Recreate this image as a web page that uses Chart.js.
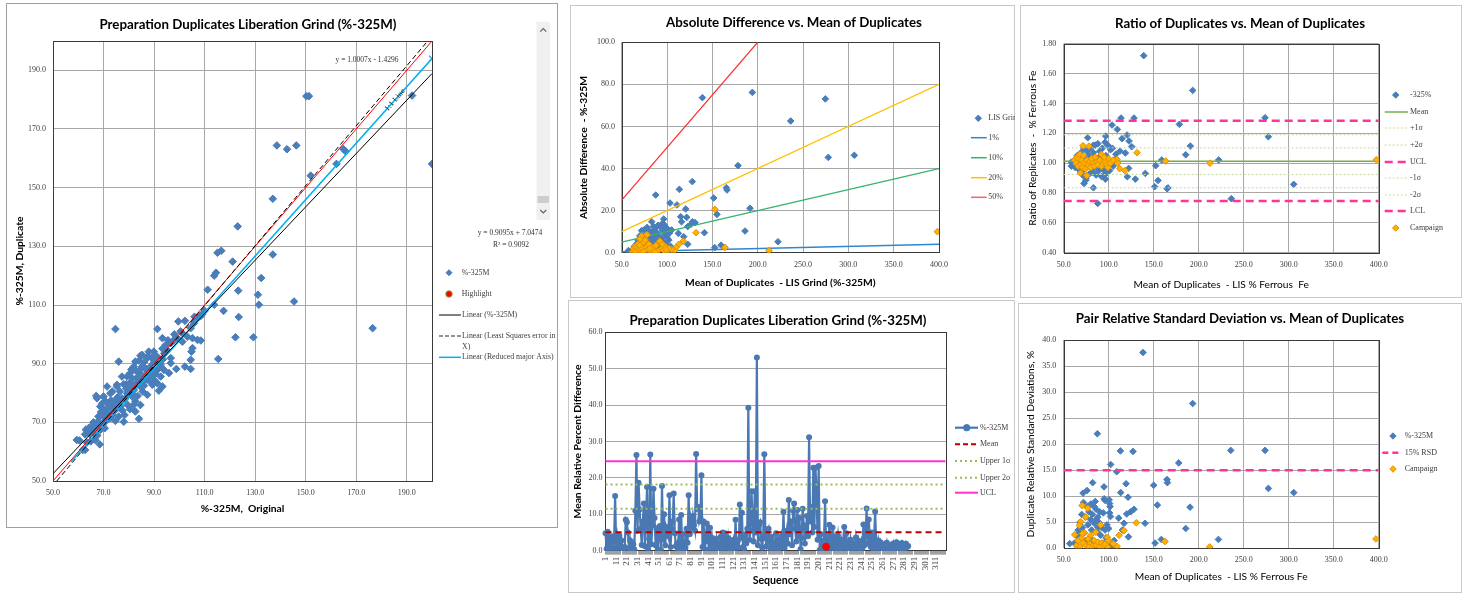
<!DOCTYPE html>
<html>
<head>
<meta charset="utf-8">
<script src="https://cdn.jsdelivr.net/npm/chart.js@4.4.1/dist/chart.umd.min.js"></script>
<style>
  html, body { margin: 0; padding: 0; background: #fff; }
  body { width: 1466px; height: 596px; position: relative; overflow: hidden; }
  .panel { position: absolute; }
</style>
</head>
<body>
<div class="panel" style="left:6px;top:3px;width:552px;height:525px"><canvas id="c1"></canvas></div>
<div class="panel" style="left:570px;top:5px;width:445px;height:293px"><canvas id="c2"></canvas></div>
<div class="panel" style="left:1020px;top:5px;width:442px;height:293px"><canvas id="c3"></canvas></div>
<div class="panel" style="left:568px;top:300px;width:447px;height:293px"><canvas id="c4"></canvas></div>
<div class="panel" style="left:1018px;top:303px;width:444px;height:290px"><canvas id="c5"></canvas></div>
<script>
// ---------------- data ----------------

// chart 1 : original vs duplicate (%-325M)
var p1Points = [
  [138.6,164.4],[137.0,146.2],[123.1,136.8],[137.0,127.2],[115.1,127.8],[116.6,128.5],[121.1,124.8],
  [113.8,120.0],[114.5,121.0],[132.4,119.2],[150.3,181.2],[151.3,181.2],[142.6,163.1],[146.3,164.4],
  [165.8,162.4],[164.9,163.2],[162.2,158.1],[152.0,154.1],[192.1,181.4],[200,158.1],[145.4,111.2],
  [176.5,102.1],[111.2,115.2],[123.3,114.9],[131.1,113.5],[131.5,110.1],[117.5,108.0],[123.5,105.9],
  [113.8,110.1],[122.2,99.0],[129.3,99.0],[115.4,91.6],[74.7,101.8],[91.3,101.8],[76.0,90.7],
  [99.6,104.4],[102.2,104.6],[108.5,106.3],[107.2,105.5],[105.8,103.8],[104.5,102.1],[101.2,100.4],
  [103.2,99.2],[105.2,98.7],[107.2,98.1],[108.5,97.9],[97.9,98.1],[99.2,98.7],[96.6,97.0],[94.6,96.4],
  [93.3,98.7],[93.3,95.1],[95.2,94.7],[101.2,97.5],[105.2,95.3],[104.8,94.1],[96.6,91.9],[98.8,88.2],
  [104.5,88.2],[104.5,91.3],[102.2,89.0],[96.6,90.2],[110.0,108.0],[109.0,106.8],[106.0,106.0],
  [100.5,101.0],[98.0,100.0],[95.5,98.0],
  [62.7,60.6],[59.4,64.0],[60.5,63.8],[61.8,60.6],[63.4,63.1],[62.7,65.9],[66.7,64.0],[65.4,67.4],
  [68.7,67.4],[64.5,66.0],[65.0,63.5],[66.0,66.5],[67.5,65.5],[67.0,68.5],[69.5,69.0],[68.0,70.5],
  [70.5,68.0],[71.0,70.5],[72.7,71.4],[70.4,74.2],[68.0,72.0],[67.4,78.2],[67.1,79.0],[68.7,75.4],
  [70.0,73.1],[70.0,78.8],[71.4,82.2],[72.7,79.9],[72.7,74.8],[74.7,74.2],[74.7,77.3],[74.7,70.5],
  [73.5,72.5],[75.3,82.8],[75.3,82.2],[76.7,75.4],[77.0,77.0],[77.3,78.2],[78.0,70.2],[78.3,72.5],
  [79.3,79.9],[79.3,85.6],[77.3,85.6],[80.6,86.8],[81.3,78.8],[81.3,85.0],[82.0,81.0],[82.0,89.0],
  [82.6,73.7],[82.6,77.1],[82.6,90.7],[84.0,71.2],[84.0,84.5],[84.3,86.8],[84.6,82.2],[84.6,75.9],
  [84.6,92.7],[85.3,93.0],[85.3,89.0],[86.9,87.9],[87.3,84.5],[87.3,79.4],[87.3,86.8],[87.3,91.9],
  [87.9,94.1],[88.6,89.0],[89.3,85.6],[89.3,82.8],[89.9,94.1],[91.3,87.9],[91.3,83.3],[91.3,92.2],
  [91.9,80.8],[92.6,89.6],[92.6,85.6],[93.3,82.2],[93.9,87.9],[95.9,86.8],
  [76.0,76.5],[78.5,78.0],[80.0,80.5],[81.0,82.5],[83.0,83.5],[83.5,85.5],[85.0,86.0],[86.0,84.0],
  [86.5,88.5],[88.0,87.0],[89.0,88.0],[90.0,90.5],[90.5,86.5],[85.5,80.5],[80.5,83.5],[79.0,81.5],
  [78.0,83.0],[76.5,80.5],[75.5,78.5],[74.0,76.0],[73.0,77.5],[72.0,75.5],[71.5,73.0],[70.5,71.5],
  [69.0,73.5],[69.5,76.5],[71.0,77.0],[73.5,80.5],[79.5,76.0],[81.5,79.5],[83.5,79.0],[86.0,82.5],
  [88.5,84.0],[90.0,84.5],[92.0,91.0],[93.5,91.5],[94.0,93.5],[77.5,74.0],[76.0,72.0],[80.5,74.5],
  [82.0,76.0],[64.0,68.0],[66.0,70.0],[68.5,62.5],[65.5,69.0],[63.0,67.5],[84.5,88.0],[86.0,90.5],
  [83.0,87.5],[81.0,88.0],[79.0,83.0],[87.5,92.5],[89.0,92.0],[90.5,93.0],[84.0,91.0]
];
var p1Highlight = [];
var p1OneToOne = [[50,50],[200,200]];
var p1LsqX = [[51.5,50],[198.3,200]];
var p1Rma = [[57,56.5],[200,194]];
var p1Trend = [[50,52.5],[200,188.9]];
var p1Ticks = [50,70,90,110,130,150,170,190];

// chart 2 : absolute difference vs mean
var p2Grind = [
  [139.0,73.7],[194.1,76.2],[274.6,73.1],[236.4,62.6],[277.9,45.3],[306.6,46.3],[178.3,41.4],[127.9,33.8],
  [165.4,30.9],[166.2,29.8],[151.5,26.0],[87.5,27.4],[113.6,30.1],[103.3,23.6],[111.0,22.7],[120.6,20.8],
  [191.5,21.1],[155.1,18.2],[115.1,17.1],[121.7,16.8],[83.1,14.7],[96.3,16.0],[130.9,14.3],[126.5,13.6],
  [122.8,12.4],[186.0,10.3],[141.2,9.5],[222.4,5.2],[152.6,2.4],[159.6,3.6],[122.8,4.0],[112.5,9.2],
  [118.4,7.6],[57.4,1.0],[97.0,13.2],[116.0,14.7],[128.0,14.7],[105.0,10.8],
  [62,1.5],[64,3.0],[66,2.0],[67,4.5],[68,6.0],[69,1.0],[70,8.0],[71,3.5],[72,10.5],[73,5.5],[74,2.5],
  [75,11.0],[76,7.0],[77,4.0],[78,12.0],[79,9.0],[80,6.5],[81,3.0],[82,8.5],[83,5.0],[84,10.0],[85,7.5],
  [86,2.0],[87,11.5],[88,6.0],[89,9.5],[90,4.5],[91,8.0],[92,12.5],[93,3.5],[94,7.0],[95,10.5],[96,5.5],
  [97,12.5],[98,9.0],[99,4.0],[100,7.5],[101,11.0],[102,6.0],[103,9.5],[104,3.0],[85,12.5],[80,10.5],
  [75,5.0],[88,1.5],[92,2.0],[97,1.0],[100,3.5],[83,1.0],[78,2.0],[73,8.0],[90,13.0],[95,14.0],[86,9.0],
  [82,4.0],[99,12.0]
];
var p2Campaign = [
  [152.9,20.6],[132.0,9.5],[164.0,2.5],[212.5,1.0],[398.2,10.0],[118,5.5],[113,4.0],[110,2.5],[108,1.0],
  [105,1.5],[62,0.5],[63,2.0],[64,1.0],[65,3.0],[66,0.5],[67,2.5],[68,4.0],[69,1.5],[70,3.5],[71,0.8],
  [72,8.0],[73,2.0],[74,5.0],[75,1.0],[76,6.0],[77,2.5],[78,8.5],[79,1.5],[80,4.0],[82,0.5],[84,2.5],
  [86,1.0],[88,3.5],[90,0.8],[92,5.5],[94,2.0],[96,1.2],[98,3.0],[100,0.5],[102,2.0],[70,6.5],[74,0.5],
  [81,2.0],[87,0.3],[95,4.0],[99,1.5]
];
var p2Pct1 = [[50,0.5],[400,4]];
var p2Pct10 = [[50,5],[400,40]];
var p2Pct20 = [[50,10],[400,80]];
var p2Pct50 = [[50,25],[200,100]];
var meanTicks = [50,100,150,200,250,300,350,400];
var p2YTicks = [0,20,40,60,80,100];

// chart 3 : ratio vs mean
var p3Ratio = [
  [138.9,1.72],[193.3,1.487],[273.7,1.304],[277.4,1.177],[305.6,0.858],[236.3,0.762],[222.2,1.021],
  [178.5,1.26],[185.6,1.056],[190.7,1.114],[152.2,0.983],[154.8,0.884],[151.1,0.842],[164.8,0.829],
  [165.8,0.834],[158.9,1.021],[140.7,0.931],[113.7,1.302],[128.1,1.302],[103.7,1.255],[109.6,1.226],
  [114.8,1.164],[120.4,1.188],[122.6,1.148],[125.6,1.11],[118.5,1.068],[112.6,1.081],[122.2,0.965],
  [120.7,0.909],[129.6,0.893],[96.3,0.893],[87.8,0.73],[83.0,0.835],[96.7,1.181],[76.7,1.17],[72.6,0.864],
  [74.5,0.885],[58.5,1.007],[58.5,0.98],
  [62,1.02],[63,0.97],[65,1.05],[66,0.99],[67,1.04],[68,0.95],[69,1.07],[70,1.0],[71,0.92],[72,1.1],
  [73,0.96],[74,1.03],[75,0.9],[76,1.08],[77,0.98],[78,1.05],[79,0.93],[80,1.1],[81,1.0],[82,0.94],
  [83,1.07],[84,0.97],[85,1.12],[86,0.92],[87,1.03],[88,1.13],[89,0.95],[90,1.08],[91,0.99],[92,0.91],
  [93,1.1],[94,1.02],[95,0.95],[96,1.14],[97,1.05],[98,0.97],[99,1.12],[100,1.0],[101,0.95],[102,1.09],
  [104,1.1],[105,0.98],[106,1.02],[108,1.06],[86,1.0],[79,1.04],[83,1.12],[91,1.05],[97,0.93],[74,0.98]
];
var p3Campaign = [
  [131.5,1.07],[163.3,1.014],[212.6,1.0],[397.4,1.023],[118,0.95],[112.2,0.963],[109.3,1.025],[71.5,1.117],
  [78.1,1.114],[91.9,1.059],[75.6,0.916],[68.5,0.934],[62,1.02],[64,1.0],[65,1.04],[66,0.98],[67,1.03],
  [68,1.06],[69,0.99],[70,1.02],[71,0.97],[72,1.05],[73,1.0],[74,0.96],[76,1.02],[77,0.99],[79,1.01],
  [80,0.97],[81,1.03],[83,1.0],[84,0.98],[85,1.04],[87,1.01],[88,0.99],[90,1.02],[92,0.98],[94,1.0],
  [96,1.01],[98,0.99],[100,1.03],[102,1.0],[105,1.02],[110,1.0],[99,0.97],[95,1.04]
];
var p3Mean = [[50,1.013],[400,1.013]];
var p3Plus1 = [[50,1.102],[400,1.102]];
var p3Plus2 = [[50,1.19],[400,1.19]];
var p3Ucl = [[50,1.284],[400,1.284]];
var p3Minus1 = [[50,0.924],[400,0.924]];
var p3Minus2 = [[50,0.835],[400,0.835]];
var p3Lcl = [[50,0.746],[400,0.746]];
var p3YTicks = [0.4,0.6,0.8,1.0,1.2,1.4,1.6,1.8];

// chart 4 : mean relative percent difference by sequence
var seqLabels = Array.from({length: 320}, function (_, i) { return String(i + 1); });
var p4Values = [
  4.8,0.5,5.2,0.3,3.1,1.2,4.0,0.8,2.5,15.0,
  0.6,3.8,1.4,4.2,0.9,2.8,0.4,0.2,1.0,8.5,
  7.8,5.0,0.7,2.8,0.1,0.5,1.8,0.3,11.0,26.3,
  5.4,18.7,11.3,6.0,1.6,8.0,13.0,1.2,9.5,17.5,
  0.5,3.2,26.4,1.8,7.0,17.0,9.0,1.5,6.2,0.4,
  4.5,6.8,0.2,17.8,3.0,10.0,1.5,6.5,5.5,4.0,
  15.2,1.0,6.0,8.0,15.7,4.8,1.2,2.0,0.1,8.6,
  0.4,9.8,1.5,4.6,0.3,0.8,6.0,2.2,15.2,4.5,
  8.6,6.5,9.5,7.0,5.5,26.6,11.5,12.0,8.0,9.0,
  20.7,1.0,8.0,0.5,2.5,7.5,4.0,0.3,6.3,1.2,
  3.5,0.8,2.8,1.5,3.2,0.5,2.0,0.2,3.8,1.0,
  5.0,0.4,4.8,2.2,1.0,3.5,0.6,2.5,0.3,1.8,
  3.0,0.5,8.5,1.2,2.5,0.8,12.7,3.5,10.4,1.0,
  0.4,4.5,2.0,6.0,39.3,3.0,5.5,16.3,8.0,2.5,
  16.3,5.0,53.1,1.5,7.0,7.8,3.2,0.8,4.0,26.5,
  3.5,1.2,5.0,6.0,2.5,0.6,3.8,1.0,2.2,0.4,
  4.8,1.5,3.0,0.5,2.4,4.0,1.2,10.7,0.8,3.5,
  5.5,2.0,13.9,4.5,8.0,1.5,11.0,13.0,6.0,2.5,
  11.2,4.0,9.0,0.5,3.5,11.5,7.0,2.0,5.5,9.5,
  4.0,31.2,8.0,12.0,5.0,22.8,6.5,22.8,16.5,3.0,
  23.3,0.2,4.5,1.0,0.5,2.8,13.6,1.1,4.0,0.8,
  7.1,2.5,0.3,6.4,1.8,3.5,0.5,2.0,4.2,0.2,
  1.5,3.0,0.6,2.5,6.5,1.0,4.8,0.4,2.2,0.1,
  3.0,1.2,0.5,2.0,0.8,3.6,1.5,2.8,0.3,1.0,
  2.5,0.6,7.2,1.5,4.0,11.6,2.0,8.6,3.5,1.0,
  5.0,0.5,3.0,10.8,1.8,0.4,2.8,1.2,2.3,0.6,
  1.5,0.2,1.8,0.8,2.2,0.5,1.2,0.3,1.6,0.9,
  2.0,0.4,1.5,2.3,0.7,1.8,0.5,1.2,2.1,0.6,
  1.4,0.3,1.9,1.0,1.3
];
var p4Highlight = [{x: '208', y: 1.1}];
var p4Mean = 5.1, p4Upper1 = 11.5, p4Upper2 = 18.2, p4Ucl = 24.6;
var p4YTicks = [0,10,20,30,40,50,60];

// chart 5 : relative standard deviation vs mean
var p5Rsd = [
  [138.1,37.6],[193.3,27.8],[87.4,22.0],[235.6,18.8],[273.7,18.8],[113.0,18.7],[127.0,18.6],[102.2,16.1],
  [177.8,16.4],[108.9,14.7],[164.8,13.2],[165.2,12.6],[150.0,12.1],[119.3,12.4],[277.4,11.5],[305.6,10.7],
  [82.2,12.6],[94.8,11.8],[71.5,10.6],[75.9,11.1],[113.3,10.7],[121.5,9.8],[154.1,8.3],[190.4,7.9],
  [128.1,7.5],[124.4,7.0],[120.0,6.6],[111.1,5.8],[140.4,4.8],[117.0,4.8],[115.2,3.5],[185.6,3.8],
  [121.9,2.2],[158.5,1.7],[221.9,1.7],[151.5,1.0],[56.7,0.9],[100.5,9.3],[101.0,8.6],[101.5,8.0],
  [101.0,6.8],[102.0,6.1],[95.0,9.5],[96.0,9.2],
  [62,1.0],[64,2.5],[65,0.5],[66,3.5],[67,1.8],[68,5.0],[69,2.8],[70,6.5],[71,4.0],[72,8.8],[73,3.0],
  [74,6.0],[75,1.5],[76,8.0],[77,4.5],[78,7.0],[79,2.0],[80,5.5],[81,3.5],[82,6.5],[83,1.2],[84,4.8],
  [85,9.0],[86,7.5],[87,3.2],[88,6.0],[89,5.0],[90,7.0],[91,2.5],[92,4.0],[93,1.0],[94,6.8],[96,3.5],
  [97,2.0],[98,4.5],[99,1.5],[100,3.8],[103,1.0],[104,0.5],[106,1.5],[86,5.5],[80,8.5],[84,8.0],[88,4.0]
];
var p5Campaign = [
  [130.7,4.9],[162.6,1.3],[212.2,0.26],[397.0,1.8],[117.0,3.4],[111.5,2.5],[109.3,0.4],[70.4,8.2],
  [76.7,7.7],[74.4,6.0],[85.6,3.1],[91.1,4.5],[68.9,5.1],[67.4,4.4],[62.2,2.6],[98.5,2.1],[98.5,0.3],
  [64,0.5],[66,1.5],[68,0.3],[70,2.0],[72,1.0],[73,3.0],[75,0.5],[77,1.8],[79,0.8],[80,2.5],[82,0.4],
  [84,1.5],[86,0.6],[88,1.2],[90,0.3],[92,1.0],[94,0.5],[96,0.8],[100,1.5],[105,0.9],[71,2.8],[78,0.2]
];
var p5Limit = [[50,15],[400,15]];
var p5YTicks = [0,5,10,15,20,25,30,35,40];

// ---------------- styles ----------------
var BLUE = '#4A7EBB';
var ORANGE = '#FFB000', ORANGE_EDGE = '#E39200';
var PINK = '#FF3399';
var GRID = '#A8A8A8', TICK = '#404040', FRAME = '#3A3A3A';
var TITLE_FONT = 'bold 13.3px Lato';
var SERIF = '"Liberation Serif", serif';

Chart.defaults.font.family = SERIF;
Chart.defaults.color = TICK;

function pts(arr) { return arr.map(function (p) { return {x: p[0], y: p[1]}; }); }

function dots(label, arr, fill, edge, r, order) {
  return {label: label, data: pts(arr), showLine: false, pointStyle: 'rectRot', pointRadius: r,
    pointBackgroundColor: fill, pointBorderColor: edge, pointBorderWidth: 1, order: order};
}
function seg(label, arr, color, w, dash, order) {
  return {label: label, data: pts(arr), showLine: true, borderColor: color, borderWidth: w,
    borderDash: dash || [], pointRadius: 0, fill: false, order: order};
}

function linAxis(o) {
  return {
    type: 'linear', min: o.min, max: o.max,
    afterBuildTicks: function (s) { s.ticks = o.ticks.map(function (v) { return {value: v}; }); },
    afterFit: function (s) { if (o.w) s.width = o.w; if (o.h) s.height = o.h; },
    grid: {color: GRID, lineWidth: 1, drawTicks: false},
    border: {display: false},
    ticks: {padding: o.pad, color: TICK, font: {size: 8}, autoSkip: false, maxRotation: 0,
      callback: function (v) { return v.toFixed(o.dec); }},
    title: {display: true, text: o.title, color: '#000', font: o.tfont, padding: o.tpad}
  };
}

function drawMarker(c, style, x, y, r, fill, edge) {
  c.save();
  c.fillStyle = fill; c.strokeStyle = edge; c.lineWidth = 1;
  Chart.helpers.drawPoint(c, {pointStyle: style, radius: r, borderWidth: 1, rotation: 0}, x, y);
  c.restore();
}

// titles, legends, notes, frame and panel border
var decor = {
  id: 'decor',
  beforeDraw: function (chart, args, o) {
    var c = chart.ctx;
    c.save();
    c.fillStyle = '#fff';
    c.fillRect(0, 0, chart.width, chart.height);
    c.strokeStyle = o.border;
    c.lineWidth = 1;
    c.strokeRect(0.5, 0.5, chart.width - 1, chart.height - 1);
    c.restore();
  },
  beforeDatasetsDraw: function (chart, args, o) {
    var a = chart.chartArea, c = chart.ctx;
    c.save();
    c.strokeStyle = FRAME; c.lineWidth = 1;
    c.strokeRect(Math.round(a.left) + 0.5, Math.round(a.top) + 0.5,
      Math.round(a.right - a.left), Math.round(a.bottom - a.top));
    c.restore();
  },
  afterDraw: function (chart, args, o) {
    var c = chart.ctx;
    c.save();
    c.fillStyle = '#000';
    c.font = TITLE_FONT;
    c.textAlign = 'center';
    c.textBaseline = 'middle';
    c.fillText(o.title[0], o.title[1], o.title[2]);

    (o.notes || []).forEach(function (n) {
      c.save();
      c.font = n.font || ('7.5px ' + SERIF);
      c.fillStyle = n.color || '#333';
      c.textAlign = 'center';
      c.textBaseline = 'middle';
      c.translate(n.x, n.y);
      if (n.rot) c.rotate(n.rot);
      c.fillText(n.text, 0, 0);
      c.restore();
    });

    c.font = (o.legendSize || 8) + 'px ' + SERIF;
    c.textAlign = 'left';
    c.textBaseline = 'middle';
    (o.legend || []).forEach(function (it) {
      if (it.line) {
        c.save();
        c.strokeStyle = it.line.color;
        c.lineWidth = it.line.w;
        c.setLineDash(it.line.dash || []);
        c.beginPath();
        c.moveTo(it.line.x1, it.y);
        c.lineTo(it.line.x2, it.y);
        c.stroke();
        c.restore();
      }
      if (it.mark) drawMarker(c, it.mark.style, it.mark.x, it.y, it.mark.r, it.mark.fill, it.mark.edge);
      c.fillStyle = '#404040';
      c.fillText(it.text, it.tx, it.y);
      if (it.text2) c.fillText(it.text2, it.tx, it.y + 10.5);
    });

    if (o.scroll) {
      var s = o.scroll;
      c.fillStyle = '#F0F0F0';
      c.fillRect(s.x, s.y, s.w, s.h);
      c.fillStyle = '#CDCDCD';
      c.fillRect(s.x + 1, s.thumb, s.w - 2, 7);
      c.strokeStyle = '#606060';
      c.lineWidth = 1.2;
      var cx = s.x + s.w / 2;
      c.beginPath();
      c.moveTo(cx - 3, s.y + 10); c.lineTo(cx, s.y + 7); c.lineTo(cx + 3, s.y + 10);
      c.moveTo(cx - 3, s.y + s.h - 10); c.lineTo(cx, s.y + s.h - 7); c.lineTo(cx + 3, s.y + s.h - 10);
      c.stroke();
    }
    c.restore();
  }
};

var base = {
  responsive: true, maintainAspectRatio: false, animation: false,
  plugins: {legend: {display: false}, tooltip: {enabled: false}}
};
function opts(extra) {
  var o = Object.assign({}, base, extra);
  o.plugins = Object.assign({}, base.plugins, extra.plugins);
  return o;
}
var boldAxis = {family: 'Lato', weight: 'bold', size: 10.3};
var plainAxis = {family: 'Lato', weight: 'normal', size: 10.2};

// ---------------- chart 1 ----------------
var rmaSet = seg('Linear (Reduced major Axis)', p1Rma, '#00B0F0', 1.5, [], 3);
rmaSet.pointRadius = [0, 4];
rmaSet.pointStyle = 'crossRot';
rmaSet.pointBorderColor = '#00B0F0';
rmaSet.pointBorderWidth = 1.2;

new Chart(document.getElementById('c1'), {
  type: 'scatter',
  data: {datasets: [
    seg('Linear (%-325M)', p1Trend, '#000', 1, [], 1),
    seg('Linear (Least Squares error in X)', p1LsqX, '#000', 1, [5, 3], 2),
    rmaSet,
    seg('1:1 Line', p1OneToOne, '#FF0000', 1, [], 4),
    {label: 'Highlight', data: pts(p1Highlight), pointStyle: 'circle', pointRadius: 3.5,
      pointBackgroundColor: '#FF0000', pointBorderColor: '#8A9A3A', order: 0},
    dots('%-325M', p1Points, BLUE, BLUE, 3.8, 10)
  ]},
  options: opts({
    layout: {padding: {left: 0, right: 126, top: 38, bottom: 7}},
    scales: {
      x: linAxis({min: 50, max: 200, ticks: p1Ticks, dec: 1, h: 40, pad: 7,
        title: '%-325M,  Original', tfont: boldAxis, tpad: {top: 0, bottom: 5.8}}),
      y: linAxis({min: 50, max: 200, ticks: p1Ticks, dec: 1, w: 47, pad: 7,
        title: '%-325M, Duplicate', tfont: boldAxis, tpad: {top: 7.8, bottom: 0}})
    },
    plugins: {decor: {
      border: '#A0A0A0',
      title: ['Preparation Duplicates Liberation Grind (%-325M)', 242, 22],
      notes: [
        {text: 'y = 1.0007x - 1.4296', x: 361, y: 57},
        {text: 'y = 0.9095x + 7.0474', x: 504, y: 230},
        {text: 'R\u00B2 = 0.9092', x: 505, y: 242},
        {text: '1:1 Line', x: 389, y: 97, rot: -0.86, font: '8px ' + SERIF, color: '#222'}
      ],
      legendSize: 7.8,
      legend: [
        {y: 269.7, tx: 455.7, text: '%-325M', mark: {style: 'rectRot', x: 443, r: 3, fill: BLUE, edge: BLUE}},
        {y: 291, tx: 455.7, text: 'Highlight', mark: {style: 'circle', x: 443, r: 3.2, fill: '#FF0000', edge: '#8A9A3A'}},
        {y: 312, tx: 456, text: 'Linear (%-325M)', line: {x1: 433, x2: 455, color: '#000', w: 1}},
        {y: 333, tx: 456, text: 'Linear (Least Squares error in', text2: 'X)', line: {x1: 433, x2: 455, color: '#707070', w: 1.5, dash: [4, 2]}},
        {y: 354.3, tx: 456, text: 'Linear (Reduced major Axis)', line: {x1: 433, x2: 455, color: '#00B0F0', w: 1.5}}
      ],
      scroll: {x: 530.5, y: 18.7, w: 13.5, h: 198.3, thumb: 193}
    }}
  }),
  plugins: [decor]
});

// ---------------- chart 2 ----------------
new Chart(document.getElementById('c2'), {
  type: 'scatter',
  data: {datasets: [
    dots('Campaign', p2Campaign, ORANGE, ORANGE_EDGE, 3.3, 1),
    seg('50%', p2Pct50, '#FF2A2A', 1.2, [], 2),
    seg('20%', p2Pct20, '#FFC000', 1.2, [], 3),
    seg('10%', p2Pct10, '#33B36B', 1.2, [], 4),
    seg('1%', p2Pct1, '#2E86D1', 1.5, [], 5),
    dots('LIS Grind', p2Grind, BLUE, BLUE, 3.3, 10)
  ]},
  options: opts({
    layout: {padding: {left: 0, right: 76, top: 37.3, bottom: 5.3}},
    scales: {
      x: linAxis({min: 50, max: 400, ticks: meanTicks, dec: 1, h: 40, pad: 7,
        title: 'Mean of Duplicates  - LIS Grind (%-325M)', tfont: boldAxis, tpad: {top: 0, bottom: 3.5}}),
      y: linAxis({min: 0, max: 100, ticks: p2YTicks, dec: 1, w: 51.7, pad: 6.7,
        title: 'Absolute Difference  - %-325M', tfont: boldAxis, tpad: {top: 7.8, bottom: 0}})
    },
    plugins: {decor: {
      border: '#C8C8C8',
      title: ['Absolute Difference vs. Mean of Duplicates', 224, 17.5],
      legend: [
        {y: 113.3, tx: 418.3, text: 'LIS Grind', mark: {style: 'rectRot', x: 408.3, r: 3.2, fill: BLUE, edge: BLUE}},
        {y: 132.7, tx: 418.3, text: '1%', line: {x1: 401, x2: 416.7, color: '#2E86D1', w: 1.5}},
        {y: 152.7, tx: 418.3, text: '10%', line: {x1: 401, x2: 416.7, color: '#33B36B', w: 1.5}},
        {y: 172.7, tx: 418.3, text: '20%', line: {x1: 401, x2: 416.7, color: '#FFC000', w: 1.5}},
        {y: 192.3, tx: 418.3, text: '50%', line: {x1: 401, x2: 416.7, color: '#FF6060', w: 1.5}}
      ]
    }}
  }),
  plugins: [decor]
});

// ---------------- chart 3 ----------------
var sigmaLine = {color: '#C5D99E', w: 1, dash: [2, 2]};
new Chart(document.getElementById('c3'), {
  type: 'scatter',
  data: {datasets: [
    dots('Campaign', p3Campaign, ORANGE, ORANGE_EDGE, 3.3, 1),
    seg('LCL', p3Lcl, PINK, 2.5, [8, 5], 2),
    seg('-2\u03C3', p3Minus2, sigmaLine.color, 1, sigmaLine.dash, 3),
    seg('-1\u03C3', p3Minus1, sigmaLine.color, 1, sigmaLine.dash, 4),
    seg('UCL', p3Ucl, PINK, 2.5, [8, 5], 5),
    seg('+2\u03C3', p3Plus2, sigmaLine.color, 1, sigmaLine.dash, 6),
    seg('+1\u03C3', p3Plus1, sigmaLine.color, 1, sigmaLine.dash, 7),
    seg('Mean', p3Mean, '#77AD4A', 1.5, [], 8),
    dots('-325%', p3Ratio, BLUE, BLUE, 3.3, 10)
  ]},
  options: opts({
    layout: {padding: {left: 0, right: 83.3, top: 38.7, bottom: 5.3}},
    scales: {
      x: linAxis({min: 50, max: 400, ticks: meanTicks, dec: 1, h: 40, pad: 7.5,
        title: 'Mean of Duplicates  - LIS % Ferrous  Fe', tfont: plainAxis, tpad: {top: 0, bottom: 1.5}}),
      y: linAxis({min: 0.4, max: 1.8, ticks: p3YTicks, dec: 2, w: 43.7, pad: 7.4,
        title: 'Ratio of Replicates  -  % Ferrous Fe', tfont: plainAxis, tpad: {top: 6.8, bottom: 0}})
    },
    plugins: {decor: {
      border: '#C8C8C8',
      title: ['Ratio of Duplicates vs. Mean of Duplicates', 220, 18.3],
      legend: [
        {y: 90, tx: 390, text: '-325%', mark: {style: 'rectRot', x: 375.7, r: 3.2, fill: BLUE, edge: BLUE}},
        {y: 107, tx: 390, text: 'Mean', line: {x1: 364.7, x2: 388, color: '#77AD4A', w: 1.5}},
        {y: 123, tx: 390, text: '+1\u03C3', line: {x1: 364.7, x2: 388, color: sigmaLine.color, w: 1, dash: [2, 2]}},
        {y: 140, tx: 390, text: '+2\u03C3', line: {x1: 364.7, x2: 388, color: sigmaLine.color, w: 1, dash: [2, 2]}},
        {y: 157, tx: 390, text: 'UCL', line: {x1: 364.7, x2: 388, color: PINK, w: 2.5, dash: [8, 5]}},
        {y: 173, tx: 390, text: '-1\u03C3', line: {x1: 364.7, x2: 388, color: sigmaLine.color, w: 1, dash: [2, 2]}},
        {y: 190, tx: 390, text: '-2\u03C3', line: {x1: 364.7, x2: 388, color: sigmaLine.color, w: 1, dash: [2, 2]}},
        {y: 206, tx: 390, text: 'LCL', line: {x1: 364.7, x2: 388, color: PINK, w: 2.5, dash: [8, 5]}},
        {y: 223, tx: 390, text: 'Campaign', mark: {style: 'rectRot', x: 375.7, r: 3.2, fill: ORANGE, edge: ORANGE_EDGE}}
      ]
    }}
  }),
  plugins: [decor]
});

// ---------------- chart 4 ----------------
function flat(v) { return [{x: seqLabels[0], y: v}, {x: seqLabels[seqLabels.length - 1], y: v}]; }
var SEQ_BLUE = '#4A78B3';
new Chart(document.getElementById('c4'), {
  type: 'line',
  data: {labels: seqLabels, datasets: [
    {label: 'Highlight', data: p4Highlight, showLine: false, pointRadius: 3.5, pointStyle: 'circle',
      pointBackgroundColor: '#FF0000', pointBorderColor: '#FF0000', order: 0},
    {label: 'UCL', data: flat(p4Ucl), borderColor: '#FF33CC', borderWidth: 2, pointRadius: 0, order: 1},
    {label: 'Upper 2\u03C3', data: flat(p4Upper2), borderColor: '#9BBB59', borderWidth: 2, borderDash: [2, 3], pointRadius: 0, order: 2},
    {label: 'Upper 1\u03C3', data: flat(p4Upper1), borderColor: '#9BBB59', borderWidth: 2, borderDash: [2, 3], pointRadius: 0, order: 3},
    {label: 'Mean', data: flat(p4Mean), borderColor: '#C00000', borderWidth: 2, borderDash: [6, 4], pointRadius: 0, order: 4},
    {label: '%-325M', data: p4Values, borderColor: SEQ_BLUE, borderWidth: 2.2, pointRadius: 3,
      pointBackgroundColor: SEQ_BLUE, pointBorderColor: SEQ_BLUE, pointBorderWidth: 0, order: 10}
  ]},
  options: opts({
    layout: {padding: {left: 0, right: 69, top: 32.3, bottom: 2.3}},
    scales: {
      x: {
        type: 'category', offset: true,
        afterFit: function (s) { s.height = 40; },
        grid: {drawOnChartArea: false, drawTicks: true, tickLength: 4, color: '#A0A0A0', offset: true},
        border: {display: false},
        ticks: {autoSkip: false, minRotation: 90, maxRotation: 90, padding: 2, color: TICK, font: {size: 9},
          callback: function (v, i) { return i % 10 === 0 ? seqLabels[i] : ''; }},
        title: {display: true, text: 'Sequence', color: '#000', font: {family: 'Lato', weight: 'bold', size: 10.6}, padding: {top: 0, bottom: 3.3}}
      },
      y: linAxis({min: 0, max: 60, ticks: p4YTicks, dec: 1, w: 37, pad: 2.5,
        title: 'Mean Relative Percent Difference', tfont: boldAxis, tpad: {top: 3.8, bottom: 0}})
    },
    plugins: {decor: {
      border: '#C8C8C8',
      title: ['Preparation Duplicates Liberation Grind (%-325M)', 210, 20.7],
      legend: [
        {y: 127.7, tx: 412, text: '%-325M', line: {x1: 387, x2: 410, color: SEQ_BLUE, w: 2.2},
          mark: {style: 'circle', x: 398.7, r: 3.2, fill: SEQ_BLUE, edge: SEQ_BLUE}},
        {y: 144.3, tx: 412, text: 'Mean', line: {x1: 387, x2: 410, color: '#C00000', w: 2, dash: [5, 3]}},
        {y: 161, tx: 412, text: 'Upper 1\u03C3', line: {x1: 387, x2: 410, color: '#9BBB59', w: 2, dash: [2, 3]}},
        {y: 177.7, tx: 412, text: 'Upper 2\u03C3', line: {x1: 387, x2: 410, color: '#9BBB59', w: 2, dash: [2, 3]}},
        {y: 192.7, tx: 412, text: 'UCL', line: {x1: 387, x2: 410, color: '#FF33CC', w: 2}}
      ]
    }}
  }),
  plugins: [decor]
});

// ---------------- chart 5 ----------------
new Chart(document.getElementById('c5'), {
  type: 'scatter',
  data: {datasets: [
    dots('Campaign', p5Campaign, ORANGE, ORANGE_EDGE, 3.3, 1),
    seg('15% RSD', p5Limit, PINK, 2.5, [8, 5], 2),
    dots('%-325M', p5Rsd, BLUE, BLUE, 3.3, 10)
  ]},
  options: opts({
    layout: {padding: {left: 0, right: 83.3, top: 37, bottom: 4.7}},
    scales: {
      x: linAxis({min: 50, max: 400, ticks: meanTicks, dec: 1, h: 40, pad: 7,
        title: 'Mean of Duplicates  - LIS % Ferrous Fe', tfont: plainAxis, tpad: {top: 0, bottom: 5.1}}),
      y: linAxis({min: 0, max: 40, ticks: p5YTicks, dec: 1, w: 45.7, pad: 7.4,
        title: 'Duplicate Relative Standard Deviations, %', tfont: plainAxis, tpad: {top: 6.5, bottom: 0}})
    },
    plugins: {decor: {
      border: '#C8C8C8',
      title: ['Pair Relative Standard Deviation vs. Mean of Duplicates', 222, 16],
      legend: [
        {y: 133, tx: 386.7, text: '%-325M', mark: {style: 'rectRot', x: 375, r: 3.2, fill: BLUE, edge: BLUE}},
        {y: 149.7, tx: 386.7, text: '15% RSD', line: {x1: 364.3, x2: 381, color: PINK, w: 2.5, dash: [6, 4]}},
        {y: 166, tx: 386.7, text: 'Campaign', mark: {style: 'rectRot', x: 375, r: 3.2, fill: ORANGE, edge: ORANGE_EDGE}}
      ]
    }}
  }),
  plugins: [decor]
});
</script>
</body>
</html>
